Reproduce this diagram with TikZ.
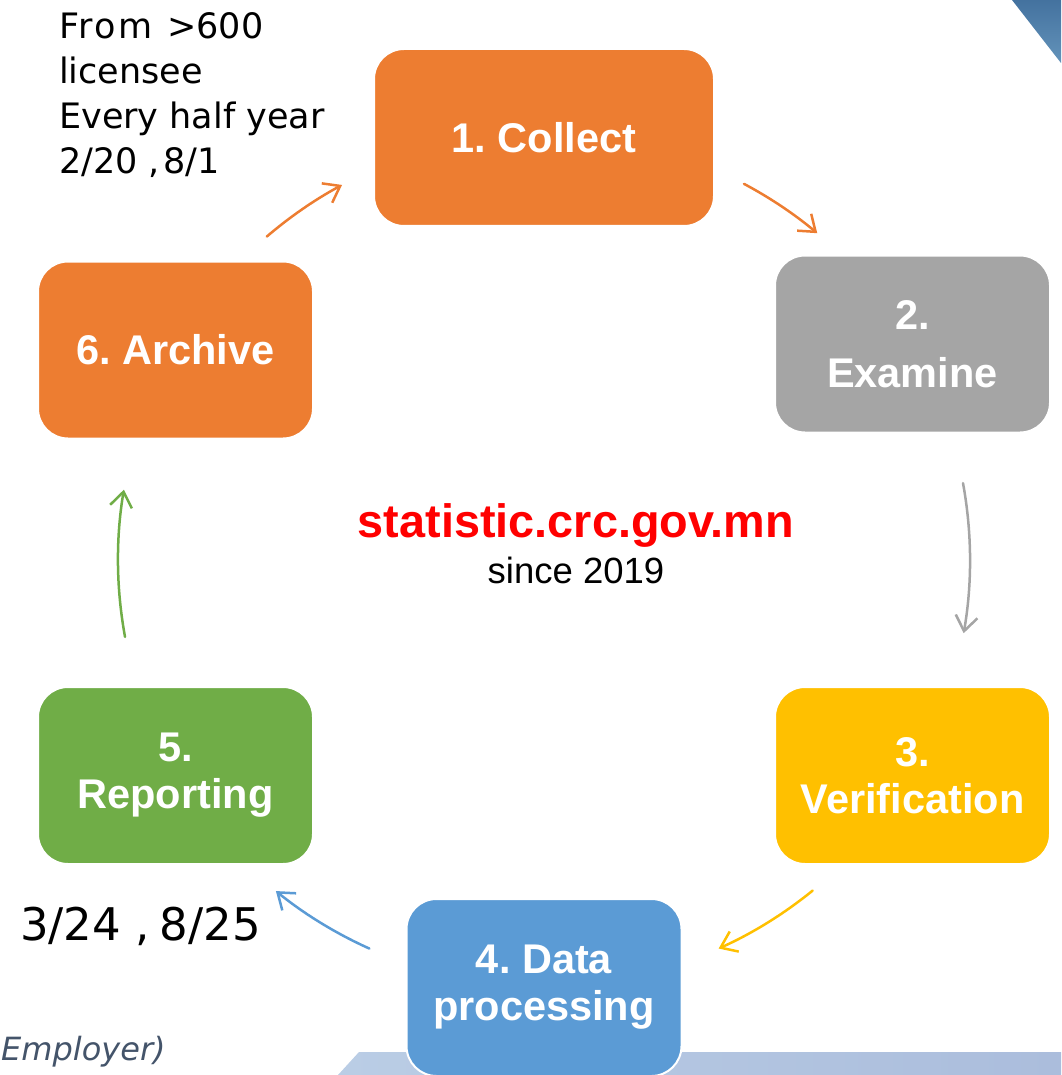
\documentclass[tikz,border=0pt]{standalone}
\usepackage{fontspec}
\setmainfont{Liberation Sans}
\newfontfamily\verdana{DejaVu Sans}
\newfontfamily\verdanawide[LetterSpace=6]{DejaVu Sans}
\usetikzlibrary{arrows.meta}
\frenchspacing
\definecolor{orangeC}{HTML}{ED7D31}
\definecolor{grayC}{HTML}{A5A5A5}
\definecolor{yellowC}{HTML}{FFC000}
\definecolor{blueC}{HTML}{5B9BD5}
\definecolor{greenC}{HTML}{70AD47}
\definecolor{slateC}{HTML}{44546A}
\definecolor{barL}{HTML}{BACDE5}
\definecolor{barR}{HTML}{ABBDDC}
\definecolor{triTop}{HTML}{44729F}
\definecolor{triBot}{HTML}{6393BA}
\tikzset{
  stepbox/.style={rounded corners=30pt, draw=white, line width=2pt, text=white, align=center,
    minimum width=275pt, minimum height=177pt, inner sep=0pt,
    font={\bfseries\fontsize{41.5}{47}\selectfont}},
  cyclearrow/.style={line width=2.5pt, -{Straight Barb[length=15pt,width=22pt]}}
}
\begin{document}
\begin{tikzpicture}[x=1pt, y=-1pt, line join=round, line cap=round]
  \useasboundingbox (0,0) rectangle (1061,1075);
  % decorations of the slide
  \shade[left color=barL, right color=barR] (338,1075) -- (359,1052) -- (1061,1052) -- (1061,1075) -- cycle;
  \shade[top color=triTop, bottom color=triBot] (1012,0) -- (1061,0) -- (1061,63) -- cycle;
  % steps
  \node[stepbox, fill=orangeC, minimum width=340pt] (collect) at (544,137.5) {1. Collect};
  \node[stepbox, fill=grayC] (examine) at (912.5,344) {2.\\[11pt]Examine};
  \node[stepbox, fill=yellowC] (verify) at (912.5,775.5) {3.\\Verification};
  \node[stepbox, fill=blueC] (process) at (544,987.5) {4. Data\\processing};
  \node[stepbox, fill=greenC] (report) at (175.5,775.5) {5.\\Reporting};
  \node[stepbox, fill=orangeC] (archive) at (175.5,350) {6. Archive};
  % cycle arrows
  \coordinate (hub) at (544,560);
  \foreach \from/\to/\col in {229.4/241.7/orangeC, 298/309.9/orangeC, -10.4/9.9/grayC,
      50.9/65.8/yellowC, 114.2/129/blueC, 169.6/189.5/greenC}
    \draw[cyclearrow, \col] (hub) ++(\from:426) arc[start angle=\from, end angle=\to, radius=426];
  % texts
  \node[anchor=base, text=red, font={\bfseries\fontsize{46.8}{50}\selectfont}, inner sep=0pt] (site) at (576,537) {statistic.crc.gov.mn};
  \node[anchor=base, font={\fontsize{36.5}{40}\selectfont}, inner sep=0pt] (since) at (576,583) {since 2019};
  \node[anchor=north west, align=left, inner sep=0pt, font={\verdana\fontsize{35}{45}\selectfont}] (from) at (59,12)
    {{\verdanawide From}\kern4pt{} >600\\licensee\\Every half year\\2/20 ,\kern3pt8/1};
  \node[anchor=base west, inner sep=0pt, font={\verdana\fontsize{45}{50}\selectfont}] (dates) at (20,940) {3/24 ,\kern10pt8/25};
  \node[anchor=base west, inner sep=0pt, text=slateC, font={\verdana\itshape\fontsize{32}{36}\selectfont}] (employer) at (1,1060) {Employer)};
\end{tikzpicture}
\end{document}
